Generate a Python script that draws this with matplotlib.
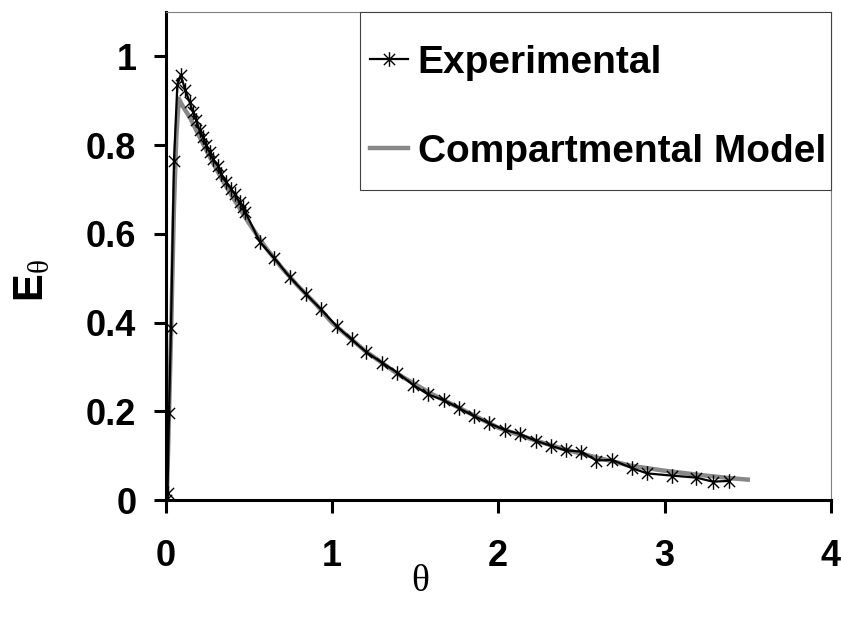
import matplotlib
matplotlib.use("Agg")
import matplotlib.pyplot as plt
from matplotlib.path import Path
from matplotlib.patches import Rectangle

# Dimensionless time and normalised exit-age distribution, measured
exp_theta = [0.0, 0.012, 0.021, 0.033, 0.051, 0.071, 0.091, 0.119, 0.145, 0.165,
             0.185, 0.205, 0.225, 0.245, 0.265, 0.285, 0.315, 0.335, 0.365, 0.395,
             0.415, 0.445, 0.465, 0.48, 0.568, 0.654, 0.748, 0.844, 0.934, 1.028,
             1.118, 1.208, 1.304, 1.394, 1.486, 1.578, 1.673, 1.765, 1.855, 1.945,
             2.039, 2.129, 2.225, 2.319, 2.405, 2.5, 2.59, 2.684, 2.804, 2.896,
             3.044, 3.19, 3.29, 3.386]
exp_E = [0.0, 0.016, 0.197, 0.387, 0.765, 0.935, 0.958, 0.924, 0.897, 0.875,
         0.856, 0.833, 0.818, 0.80, 0.784, 0.769, 0.754, 0.735, 0.717, 0.701,
         0.69, 0.671, 0.66, 0.649, 0.581, 0.545, 0.502, 0.464, 0.43, 0.392,
         0.362, 0.333, 0.309, 0.287, 0.26, 0.238, 0.225, 0.207, 0.189, 0.173,
         0.158, 0.149, 0.1335, 0.122, 0.112, 0.109, 0.089, 0.0905, 0.0717, 0.060,
         0.055, 0.0505, 0.0414, 0.043]

# Compartmental model prediction
model_theta = [0.0, 0.01, 0.02, 0.035, 0.05, 0.065, 0.08, 0.1, 0.15, 0.2, 0.25,
               0.3, 0.35, 0.4, 0.45, 0.5, 0.6, 0.7, 0.8, 0.9, 1.0, 1.2, 1.4, 1.6,
               1.8, 2.0, 2.2, 2.4, 2.6, 2.8, 3.0, 3.2, 3.4, 3.5]
model_E = [0.0, 0.03, 0.18, 0.40, 0.65, 0.82, 0.905, 0.89, 0.86, 0.822, 0.785,
           0.75, 0.716, 0.685, 0.655, 0.625, 0.57, 0.523, 0.481, 0.443, 0.40,
           0.336, 0.283, 0.239, 0.201, 0.163, 0.137, 0.114, 0.095, 0.077, 0.066,
           0.057, 0.049, 0.046]

x_ticks = [0, 1, 2, 3, 4]
y_ticks = [0, 0.2, 0.4, 0.6, 0.8, 1]

plt.rcParams['font.family'] = ['Liberation Sans', 'DejaVu Sans']
plt.rcParams['mathtext.fontset'] = 'custom'
plt.rcParams['mathtext.bf'] = 'Liberation Sans:bold'
plt.rcParams['mathtext.rm'] = 'Liberation Serif'

# asterisk marker: an X crossed by a vertical stroke
star = Path([(-1, -1), (1, 1), (-1, 1), (1, -1), (0, -1.3), (0, 1.3)],
            [Path.MOVETO, Path.LINETO, Path.MOVETO, Path.LINETO,
             Path.MOVETO, Path.LINETO])

fig = plt.figure(figsize=(8.41, 6.17), dpi=100)
ax = fig.add_axes([0.1968, 0.1896, 0.7913, 0.7909])

ax.plot(model_theta, model_E, color='#888888', lw=3.2, solid_joinstyle='round',
        label='Compartmental Model', zorder=2)
ax.plot(exp_theta, exp_E, color='black', lw=1.6, marker=star, markersize=10.5,
        markeredgewidth=1.0, markerfacecolor='none', markeredgecolor='black',
        label='Experimental', zorder=3)

ax.set_xlim(0, 4)
ax.set_ylim(0, 1.1)
ax.set_xticks(x_ticks)
ax.set_xticklabels([str(t) for t in x_ticks])
ax.set_yticks(y_ticks)
ax.set_yticklabels(['0', '0.2', '0.4', '0.6', '0.8', '1'])

for side in ('left', 'bottom'):
    ax.spines[side].set_linewidth(2.2)
    ax.spines[side].set_color('black')
for side in ('top', 'right'):
    ax.spines[side].set_linewidth(0.8)
    ax.spines[side].set_color('#808080')

ax.tick_params(axis='both', direction='out', length=9, width=2.2,
               labelsize=26, colors='black')
ax.tick_params(axis='y', pad=12)
ax.tick_params(axis='x', pad=19)
for lab in ax.get_xticklabels() + ax.get_yticklabels():
    lab.set_fontweight('bold')

ax.set_xlabel('θ', fontsize=27, family=['Liberation Serif', 'DejaVu Serif'])
ax.xaxis.set_label_coords(0.382, -0.168)
ax.xaxis.label.set_verticalalignment('center')

ax.set_ylabel(r'$\mathbf{E}_{\mathrm{\theta}}$', fontsize=30)
ax.yaxis.set_label_coords(-0.2, 0.45)
ax.yaxis.label.set_verticalalignment('center')

# legend box framed separately so it sits flush with the top-right corner
ax.add_patch(Rectangle((0.292, 0.635), 0.708, 0.365, transform=ax.transAxes,
                       facecolor='white', edgecolor='#404040', lw=0.8,
                       zorder=4, clip_on=False))
handles, labels = ax.get_legend_handles_labels()
leg = ax.legend(handles[::-1], labels[::-1], loc='center left',
                bbox_to_anchor=(0.307, 0.805), borderaxespad=0, borderpad=0,
                prop={'weight': 'bold', 'size': 28},
                handlelength=0.97, handletextpad=0.26, labelspacing=1.37,
                frameon=False)
leg.set_zorder(5)

fig.savefig('out.png', dpi=100)
